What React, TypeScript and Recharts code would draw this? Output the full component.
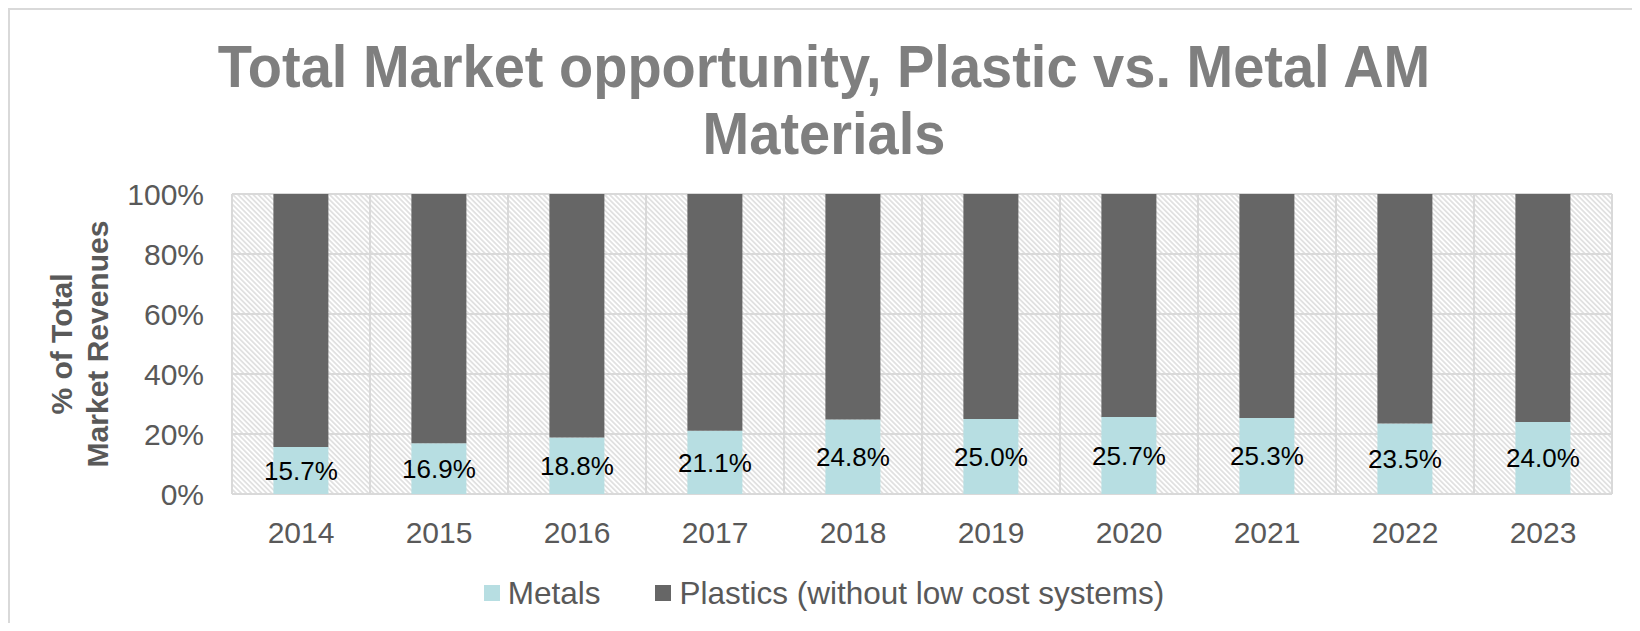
import React from 'react';
import { BarChart, Bar, XAxis, YAxis, CartesianGrid, LabelList } from 'recharts';

const years = ['2014', '2015', '2016', '2017', '2018', '2019', '2020', '2021', '2022', '2023'];
const metals = [15.7, 16.9, 18.8, 21.1, 24.8, 25.0, 25.7, 25.3, 23.5, 24.0];
const plastics = [84.3, 83.1, 81.2, 78.9, 75.2, 75.0, 74.3, 74.7, 76.5, 76.0];
const yTicks = [0, 20, 40, 60, 80, 100];

const seriesNames = ['Metals', 'Plastics (without low cost systems)'];
const seriesColors = ['#b7dee2', '#666666'];

const data = years.map((year, i) => ({ year, metals: metals[i], plastics: plastics[i] }));

const FONT = '"Liberation Sans", Arial, sans-serif';
const TICK_GRAY = '#595959';

const YTitle = () => (
  <g transform="translate(0, 336) rotate(-90)">
    <text textAnchor="middle" fontFamily={FONT} fontWeight="bold" fontSize={30} fill={TICK_GRAY}>
      <tspan x={0} y={64}>% of Total</tspan>
      <tspan x={0} y={100}>Market Revenues</tspan>
    </text>
  </g>
);

const App: React.FC = () => {
  return (
    <div style={{ position: 'relative', width: 1624, height: 615, overflow: 'hidden', background: '#fff' }}>
      {/* chart area border: only top and left edges fall inside the picture */}
      <div
        style={{
          position: 'absolute',
          left: 0,
          top: 0,
          width: 1700,
          height: 615,
          borderTop: '2px solid #d9d9d9',
          borderLeft: '2px solid #d9d9d9',
          boxSizing: 'border-box',
        }}
      />
      <div
        style={{
          position: 'absolute',
          top: 25,
          left: 0,
          width: 1632,
          textAlign: 'center',
          fontFamily: FONT,
          fontWeight: 'bold',
          fontSize: 56,
          lineHeight: '63.2px',
          color: '#7f7f7f',
          transform: 'scaleY(1.06)',
          transformOrigin: 'top center',
        }}
      >
        Total Market opportunity, Plastic vs. Metal AM
        <br />
        Materials
      </div>

      <div style={{ position: 'absolute', left: 0, top: 0 }}>
        <BarChart
          width={1632}
          height={615}
          data={data}
          margin={{ top: 186, right: 28, bottom: 69, left: 0 }}
          barCategoryGap="30%"
        >
          <defs>
            <pattern id="hatch" width="3.6" height="3.6" patternUnits="userSpaceOnUse" patternTransform="rotate(-45)">
              <rect width="3.6" height="3.6" fill="#ffffff" />
              <line x1="1.8" y1="0" x2="1.8" y2="3.6" stroke="#dedede" strokeWidth="1.6" />
            </pattern>
          </defs>
          <CartesianGrid
            stroke="#d9d9d9"
            strokeWidth={2}
            fill="url(#hatch)"
            fillOpacity={1}
            verticalCoordinatesGenerator={({ offset }: any) =>
              years.map((_, i) => offset.left + (i * offset.width) / years.length).concat(offset.left + offset.width)
            }
          />
          <XAxis
            dataKey="year"
            height={60}
            axisLine={false}
            tickLine={false}
            tickSize={0}
            tickMargin={28}
            interval={0}
            tick={{ fill: TICK_GRAY, fontSize: 30, fontFamily: FONT }}
          />
          <YAxis
            width={224}
            domain={[0, 100]}
            ticks={yTicks}
            tickFormatter={(v: number) => `${v}%`}
            axisLine={false}
            tickLine={false}
            tickSize={0}
            tickMargin={28}
            tick={{ fill: TICK_GRAY, fontSize: 30, fontFamily: FONT }}
            label={{ content: () => <YTitle /> }}
          />
          <Bar dataKey="metals" name={seriesNames[0]} stackId="a" fill={seriesColors[0]} isAnimationActive={false}>
            <LabelList
              dataKey="metals"
              position="center"
              fill="#000000"
              fontSize={26}
              fontFamily={FONT}
              formatter={(v: any) => `${Number(v).toFixed(1)}%`}
            />
          </Bar>
          <Bar dataKey="plastics" name={seriesNames[1]} stackId="a" fill={seriesColors[1]} isAnimationActive={false} />
        </BarChart>
      </div>

      {/* legend */}
      <div
        style={{
          position: 'absolute',
          top: 567,
          left: 0,
          width: 1632,
          display: 'flex',
          justifyContent: 'center',
          alignItems: 'center',
          fontFamily: FONT,
          fontSize: 31.5,
          lineHeight: '36px',
          color: TICK_GRAY,
        }}
      >
        {seriesNames.map((name, i) => (
          <div key={name} style={{ display: 'flex', alignItems: 'center', marginLeft: i > 0 ? 55 : 0 }}>
            <span style={{ display: 'inline-block', width: 16, height: 16, background: seriesColors[i], marginRight: 8 }} />
            <span>{name}</span>
          </div>
        ))}
      </div>
    </div>
  );
};

export default App;
